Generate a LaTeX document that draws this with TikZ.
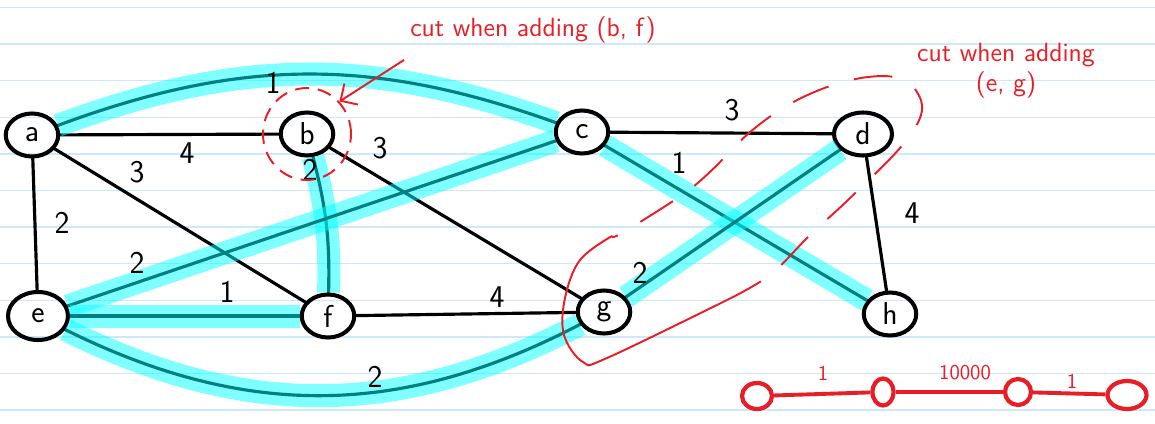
\documentclass[tikz,border=0pt]{standalone}
\usepackage{xcolor}
\usepackage{tikz}
\usetikzlibrary{shapes.geometric, arrows.meta, positioning, calc}
\definecolor{inkred}{RGB}{232,30,38}
\definecolor{hilite}{RGB}{0,255,255}
\definecolor{rulecol}{RGB}{204,232,250}
\tikzset{
  vertexnode/.style={
    ellipse, draw, line width=2.3pt, inner sep=0pt,
    minimum width=1.05cm, minimum height=0.86cm,
    font=\sffamily\fontsize{18}{18}\selectfont
  },
  edgeline/.style={line width=1.8pt, line cap=round},
  mstglow/.style={line width=0.46cm, color=hilite, opacity=0.5, line cap=butt},
  mstedge/.style={edgeline, postaction={draw, mstglow}},
  weightlabel/.style={font=\sffamily\fontsize{18}{18}\selectfont, inner sep=1pt},
  cutline/.style={color=inkred, line width=1.1pt},
  cuttext/.style={color=inkred, font=\sffamily\fontsize{15}{17}\selectfont, align=center},
  ruleline/.style={color=rulecol, line width=0.8pt},
}

\begin{document}
\begin{tikzpicture}[
  cutring/.style={ellipse, draw=inkred, line width=1.1pt, dash pattern=on 8pt off 5pt,
    minimum width=1.76cm, minimum height=1.84cm},
  chainnode/.style={ellipse, draw=inkred, line width=2.4pt, inner sep=0pt},
  chainline/.style={color=inkred, line width=2.2pt},
  chainlabel/.style={color=inkred, font=\sffamily\fontsize{12}{12}\selectfont, inner sep=1pt},
]
  \path[use as bounding box, fill=white] (0,0) rectangle (23.1,-8.46);
  \foreach \k in {0,...,11}
    \draw[ruleline] (0,{-0.15-0.732*\k}) -- (23.1,{-0.15-0.732*\k});

  % vertices
  \node[vertexnode] (a) at (0.64,-2.70) {a};
  \node[vertexnode] (b) at (6.14,-2.68) {b};
  \node[vertexnode] (c) at (11.64,-2.64) {c};
  \node[vertexnode, minimum width=1.16cm] (d) at (17.26,-2.68) {d};
  \node[vertexnode, minimum width=1.2cm, minimum height=0.96cm] (e) at (0.76,-6.32) {e};
  \node[vertexnode] (f) at (6.56,-6.32) {f};
  \node[vertexnode] (g) at (12.08,-6.24) {g};
  \node[vertexnode] (h) at (17.80,-6.28) {h};

  % plain edges
  \draw[edgeline] (a) -- (b);
  \draw[edgeline] (a) -- (e);
  \draw[edgeline] (a) -- (f);
  \draw[edgeline] (b) -- (g);
  \draw[edgeline] (c) -- (d);
  \draw[edgeline] (d) -- (h);
  \draw[edgeline] (f) -- (g);

  % tree edges
  \draw[mstedge] (a) to[bend left=20] (c);
  \draw[mstedge] (b) to[bend left=8] (f);
  \draw[mstedge] (e) -- (c);
  \draw[mstedge] (c) -- (h);
  \draw[mstedge] (g) -- (d);
  \draw[mstedge] (e) -- (f);
  \draw[mstedge] (e) to[bend right=27] (g);

  % weights
  \node[weightlabel] (w-ac) at (5.46,-1.66) {1};
  \node[weightlabel] (w-ab) at (3.74,-3.06) {4};
  \node[weightlabel] (w-af) at (2.74,-3.44) {3};
  \node[weightlabel] (w-ae) at (1.24,-4.46) {2};
  \node[weightlabel] (w-bf) at (6.20,-3.40) {2};
  \node[weightlabel] (w-bg) at (7.60,-2.96) {3};
  \node[weightlabel] (w-ce) at (2.74,-5.26) {2};
  \node[weightlabel] (w-ef) at (4.54,-5.84) {1};
  \node[weightlabel] (w-fg) at (9.94,-5.94) {4};
  \node[weightlabel] (w-dg) at (12.80,-5.46) {2};
  \node[weightlabel] (w-cd) at (14.64,-2.20) {3};
  \node[weightlabel] (w-ch) at (13.58,-3.26) {1};
  \node[weightlabel] (w-dh) at (18.24,-4.26) {4};
  \node[weightlabel] (w-eg) at (7.50,-7.54) {2};

  % cut around b
  \node[cutring] (ringb) at (b) {};
  \node[cuttext] (cutbf) at (10.66,-0.60) {cut when adding (b, f)};
  \draw[cutline, -{Straight Barb[length=2.5mm, width=5mm]}]
    ([yshift=-6pt]cutbf.south west) -- (ringb.45);

  % cut for (e,g)
  \node[cuttext] (cuteg) at (20.12,-1.42) {cut when adding\\(e, g)};
  \draw[cutline] plot[smooth, tension=0.6] coordinates {
    (12.24,-4.72) (11.60,-5.20) (11.30,-5.96) (11.28,-6.70) (11.66,-7.24)
    (12.14,-7.16) (14.54,-6.00)};
  \draw[cutline, dash pattern=on 22pt off 15pt] plot[smooth, tension=0.6] coordinates {
    (14.54,-6.00) (15.40,-5.50) (16.20,-4.70) (16.96,-4.00) (18.00,-2.96)
    (18.42,-2.30) (18.34,-1.84) (17.96,-1.56) (17.36,-1.54) (16.60,-1.72)
    (15.76,-2.10) (14.98,-2.66) (14.24,-3.40) (13.64,-3.90) (12.44,-4.66) (12.24,-4.72)};

  % small example chain
  \node[chainnode, minimum width=0.6cm, minimum height=0.52cm] (r1) at (15.14,-7.92) {};
  \node[chainnode, minimum width=0.42cm, minimum height=0.54cm] (r2) at (17.66,-7.84) {};
  \node[chainnode, minimum width=0.52cm, minimum height=0.52cm] (r3) at (20.36,-7.84) {};
  \node[chainnode, minimum width=0.78cm, minimum height=0.56cm] (r4) at (22.54,-7.90) {};
  \draw[chainline] (r1) -- (r2);
  \draw[chainline] (r2) -- (r3);
  \draw[chainline] (r3) -- (r4);
  \node[chainlabel] (cl1) at (16.46,-7.46) {1};
  \node[chainlabel] (cl2) at (19.30,-7.46) {10000};
  \node[chainlabel] (cl3) at (21.44,-7.62) {1};
\end{tikzpicture}
\end{document}
